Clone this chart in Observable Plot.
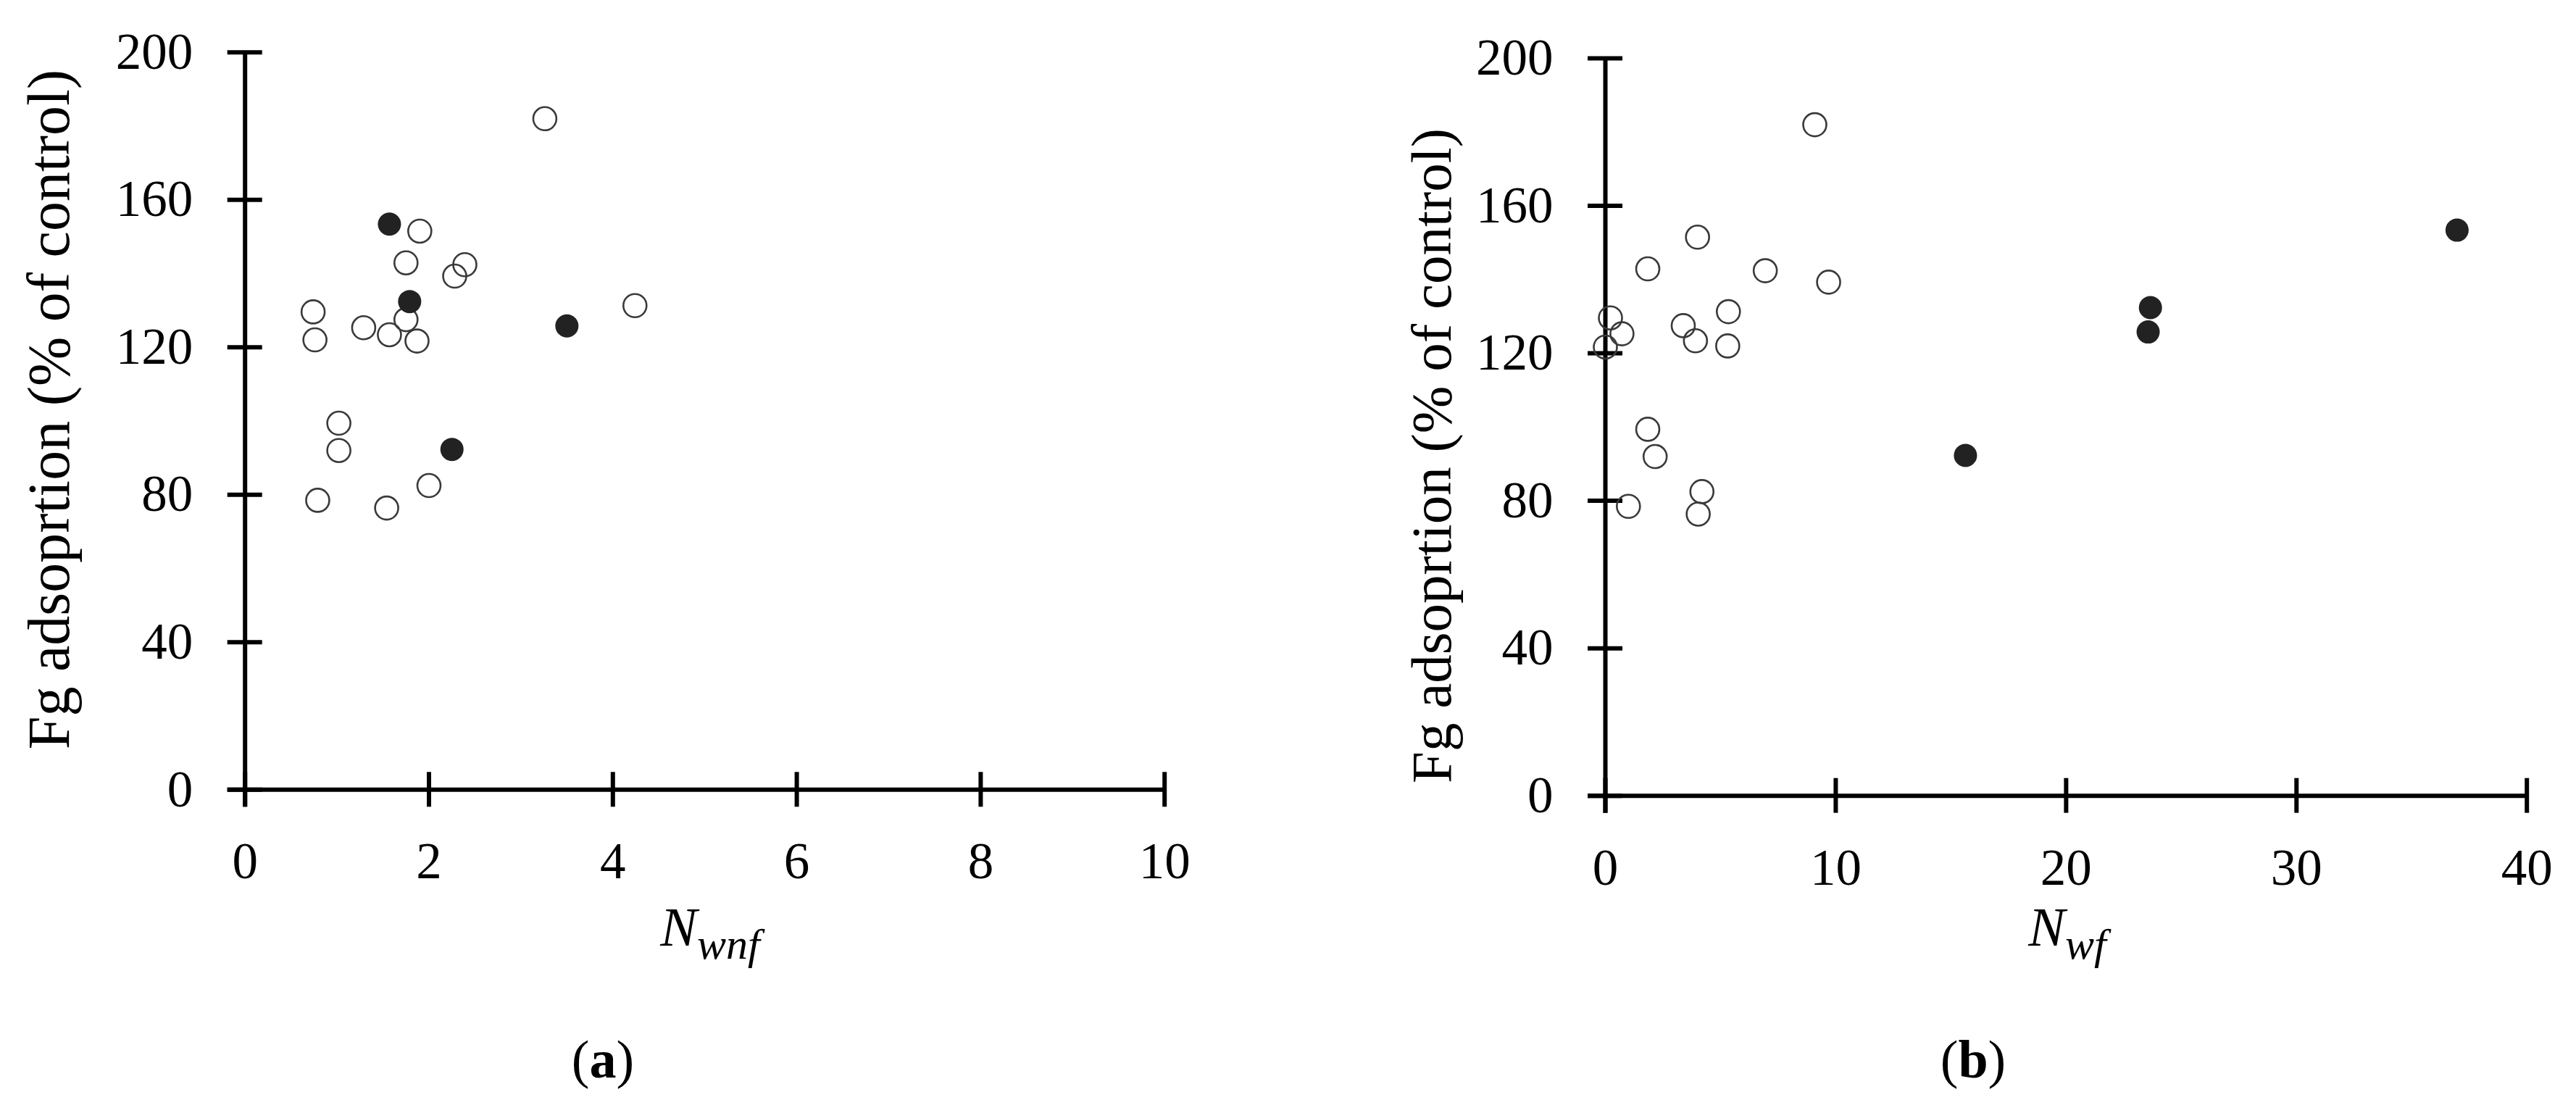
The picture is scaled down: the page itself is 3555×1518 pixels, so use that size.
<!DOCTYPE html>
<html>
<head>
<meta charset="utf-8">
<script src="https://cdn.jsdelivr.net/npm/d3@7"></script>
<script src="https://cdn.jsdelivr.net/npm/@observablehq/plot@0.6"></script>
<style>
  html, body { margin: 0; padding: 0; background: #fff; }
  #wrap { position: relative; width: 3555px; height: 1518px; overflow: hidden; background: #fff;
          font-family: "Liberation Serif", "DejaVu Serif", serif; color: #000; }
  .panel { position: absolute; top: 0; }
  .cap { position: absolute; font-size: 74px; line-height: 1; transform: translate(-50%, -50%); white-space: nowrap; }
  .cap b { font-weight: bold; }
</style>
</head>
<body>
<div id="wrap">
  <div id="pa" class="panel" style="left:0px"></div>
  <div id="pb" class="panel" style="left:1778px"></div>
  <div class="cap" style="left:832px; top:1462px">(<b>a</b>)</div>
  <div class="cap" style="left:2723px; top:1462px">(<b>b</b>)</div>
</div>
<script>
// ---- data ----
const yTicks = [0, 40, 80, 120, 160, 200];
const xTicksA = [0, 2, 4, 6, 8, 10];
const xTicksB = [0, 10, 20, 30, 40];

// open circles (same samples in both panels)
const fgOpen   = [182, 151.5, 142.9, 142.4, 139.3, 129.6, 131.3, 127.5, 125.3, 123.4, 122.0, 121.7, 99.4, 92.0, 78.5, 82.5, 76.4];
const nwnfOpen = [3.26, 1.90, 1.75, 2.39, 2.28, 0.74, 4.24, 1.75, 1.29, 1.57, 0.76, 1.87, 1.02, 1.02, 0.79, 2.00, 1.54];
const nwfOpen  = [9.09, 4.00, 1.84, 6.94, 9.69, 0.22, 5.34, 3.38, 0.72, 3.91, 5.31, 0.00, 1.84, 2.16, 1.00, 4.19, 4.03];

// filled circles
const fgFilled   = [153.4, 132.4, 125.8, 92.3];
const nwnfFilled = [1.57, 1.79, 3.50, 2.25];
const nwfFilled  = [36.97, 23.66, 23.56, 15.63];

const FONT = '"Liberation Serif", "DejaVu Serif", serif';

function panel({xOpen, xFilled, xTicks, xMax, width, height, mL, mR, mT, mB, sub, labelX, labelY, labelSize, xLabelX, xLabelY}) {
  const open = fgOpen.map((y, i) => ({x: xOpen[i], y}));
  const filled = fgFilled.map((y, i) => ({x: xFilled[i], y}));
  const svg = Plot.plot({
    width, height,
    marginLeft: mL, marginRight: mR, marginTop: mT, marginBottom: mB,
    style: {fontFamily: FONT, fontSize: "70px", color: "#000", background: "transparent", overflow: "visible"},
    x: {domain: [0, xMax]},
    y: {domain: [0, 200]},
    marks: [
      Plot.axisX(xTicks, {tickSize: 0, tickPadding: 72, label: null, fontSize: 71, fill: "#000", tickFormat: d3.format("d")}),
      Plot.axisY(yTicks, {tickSize: 0, tickPadding: 72, label: null, fontSize: 71, fill: "#000", tickFormat: d3.format("d")}),
      // axis lines
      Plot.ruleX([0], {stroke: "#000", strokeWidth: 6, insetBottom: -24}),
      Plot.ruleY([0], {stroke: "#000", strokeWidth: 6, insetLeft: -24}),
      // crossing tick marks
      Plot.ruleY(yTicks, {y: d => d, x1: 0, x2: 0, insetLeft: -24, insetRight: -24, stroke: "#000", strokeWidth: 6}),
      Plot.ruleX(xTicks, {x: d => d, y1: 0, y2: 0, insetTop: -24, insetBottom: -24, stroke: "#000", strokeWidth: 6}),
      // data
      Plot.dot(open, {x: "x", y: "y", r: 16, fill: "none", stroke: "#3a3a3a", strokeWidth: 2.6}),
      Plot.dot(filled, {x: "x", y: "y", r: 16, fill: "#222", stroke: "none"})
    ]
  });
  const s = d3.select(svg);
  // y-axis title
  s.append("text")
    .attr("transform", `translate(${labelX},${labelY}) rotate(-90)`)
    .attr("text-anchor", "middle")
    .attr("font-family", FONT)
    .attr("font-size", labelSize)
    .attr("fill", "#000")
    .text("Fg adsoprtion (% of control)");
  // x-axis title with subscript
  const t = s.append("text")
    .attr("x", xLabelX).attr("y", xLabelY)
    .attr("text-anchor", "middle")
    .attr("font-family", FONT)
    .attr("font-style", "italic")
    .attr("fill", "#000");
  t.append("tspan").attr("font-size", 76).text("N");
  t.append("tspan").attr("font-size", 60).attr("dy", 18).text(sub);
  return svg;
}

document.getElementById("pa").appendChild(panel({
  xOpen: nwnfOpen, xFilled: nwnfFilled, xTicks: xTicksA, xMax: 10,
  width: 1778, height: 1380, mL: 337.7, mR: 171.3, mT: 71.7, mB: 290.7,
  sub: "wnf", labelX: 95, labelY: 565, labelSize: 82, xLabelX: 980, xLabelY: 1305
}));
document.getElementById("pb").appendChild(panel({
  xOpen: nwfOpen, xFilled: nwfFilled, xTicks: xTicksB, xMax: 40,
  width: 1777, height: 1380, mL: 437, mR: 68.3, mT: 80, mB: 282.3,
  sub: "wf", labelX: 224, labelY: 629, labelSize: 79, xLabelX: 1075, xLabelY: 1305
}));
</script>
</body>
</html>
